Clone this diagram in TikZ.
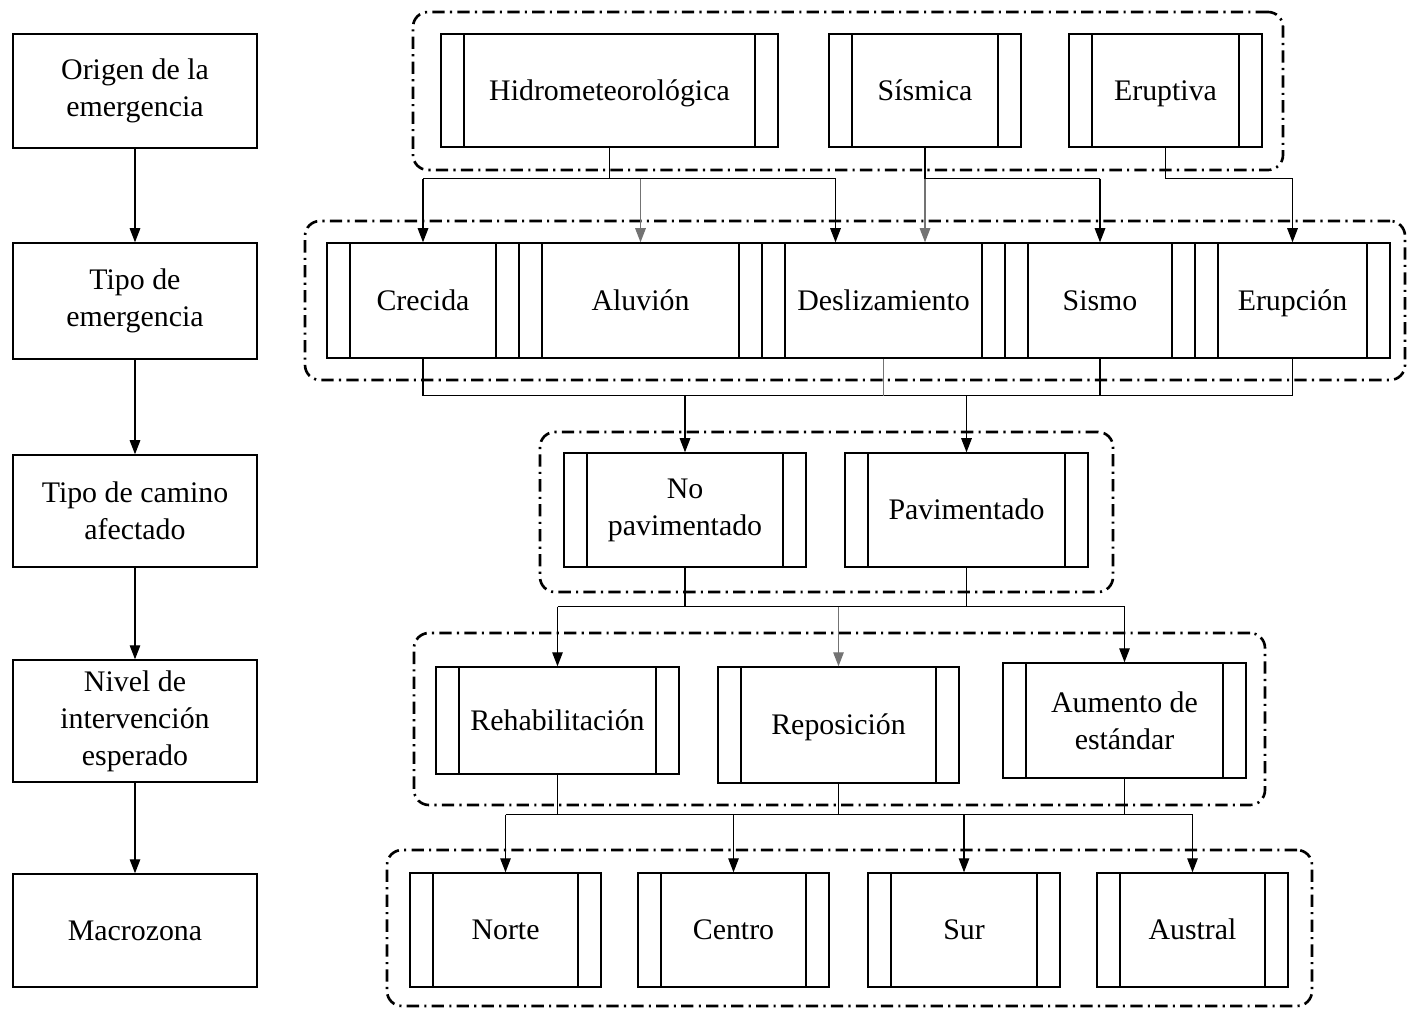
\documentclass[tikz,border=0pt]{standalone}
\usepackage{fontspec}
\setmainfont{Liberation Serif}
\usetikzlibrary{arrows.meta,fit,calc}
\begin{document}
\begin{tikzpicture}[x=0.02cm,y=-0.02cm,
  font=\fontsize{17}{21}\selectfont,
  corners/.style args={#1/#2/#3/#4}{minimum width={(#3-#1)*0.02cm}, minimum height={(#4-#2)*0.02cm},
     at={({(#1+#3)/2},{(#2+#4)/2})}},
  box/.style={draw, line width=0.8pt, inner sep=0pt, align=center, anchor=center},
  one/.style={text height=11pt, text depth=0pt},
  stage/.style={box, corners={#1}},
  proc/.style={box, corners={#1}, path picture={
     \draw[line width=0.8pt] ([xshift=0.46cm]path picture bounding box.north west) -- ([xshift=0.46cm]path picture bounding box.south west);
     \draw[line width=0.8pt] ([xshift=-0.46cm]path picture bounding box.north east) -- ([xshift=-0.46cm]path picture bounding box.south east);}},
  group/.style={draw, line width=1.5pt, rounded corners=0.3cm, inner sep=0pt,
     dash pattern=on 7pt off 3pt on 1.2pt off 3pt, fit={#1}},
  link/.style={line width=0.7pt},
  arr/.style={link, -{Triangle[length=8pt,width=6pt]}},
  faint/.style={draw=black!55},
]
\useasboundingbox (0,0) rectangle (1408,1010);

% dash-dotted groupings of each level
\node[group={(413,12) (1283,170)}] (g1) {};
\node[group={(305,221) (1405,380)}] (g2) {};
\node[group={(540,432) (1113,592)}] (g3) {};
\node[group={(414,633) (1265,805)}] (g4) {};
\node[group={(387,850) (1312,1006)}] (g5) {};

% stages on the left
\node[stage={13/34/257/148}] (s1) {Origen de la\\emergencia};
\node[stage={13/243/257/359}] (s2) {Tipo de\\emergencia};
\node[stage={13/455/257/567}] (s3) {Tipo de camino\\afectado};
\node[stage={13/660/257/782}] (s4) {Nivel de\\intervención\\esperado};
\node[stage={13/874/257/987}, one] (s5) {Macrozona};
\draw[arr] (s1.south) -- (s2.north);
\draw[arr] (s2.south) -- (s3.north);
\draw[arr] (s3.south) -- (s4.north);
\draw[arr] (s4.south) -- (s5.north);

% origin
\node[proc={441/34/778/147}, one] (hidro) {Hidrometeorológica};
\node[proc={829/34/1021/147}, one] (sismica) {Sísmica};
\node[proc={1069/34/1262/147}, one] (eruptiva) {Eruptiva};

% emergency type
\node[proc={327/243/519/358}, one] (crecida) {Crecida};
\node[proc={519/243/762/358}, one] (aluvion) {Aluvión};
\node[proc={762/243/1005/358}, one] (desliz) {Deslizamiento};
\node[proc={1005/243/1195/358}, one] (sismo) {Sismo};
\node[proc={1195/243/1390/358}, one] (erupcion) {Erupción};

% road type
\node[proc={564/453/806/567}] (nopav) {No\\pavimentado};
\node[proc={845/453/1088/567}, one] (pav) {Pavimentado};

% intervention level
\node[proc={436/667/679/774}, one] (rehab) {Rehabilitación};
\node[proc={718/667/959/783}, one] (repos) {Reposición};
\node[proc={1003/663/1246/778}] (aumento) {Aumento de\\estándar};

% macrozone
\node[proc={410/873/601/987}, one] (norte) {Norte};
\node[proc={638/873/829/987}, one] (centro) {Centro};
\node[proc={868/873/1060/987}, one] (sur) {Sur};
\node[proc={1097/873/1288/987}, one] (austral) {Austral};

% origin -> emergency type
\draw[link] (hidro.south) -- ++(0,31) coordinate (t1);
\coordinate (dl) at ($(desliz.north)+(-48,0)$);
\draw[link] (t1 -| crecida.north) -- (t1 -| dl);
\draw[arr] (t1 -| crecida.north) -- (crecida.north);
\draw[arr,faint] (t1 -| aluvion.north) -- (aluvion.north);
\draw[arr] (t1 -| dl) -- (dl);
\draw[link] (sismica.south) -- ++(0,31) coordinate (t2);
\draw[link] (t2) -- (t2 -| sismo.north);
\draw[arr,faint] (t2) -- (t2 |- desliz.north);
\draw[arr] (t2 -| sismo.north) -- (sismo.north);
\draw[link] (eruptiva.south) -- ++(0,31) coordinate (t3);
\draw[arr] (t3) -| (erupcion.north);

% emergency type -> road type
\draw[link] (crecida.south) -- ++(0,37) coordinate (t4) -- (t4 -| erupcion.south) -- (erupcion.south);
\draw[link,faint] (desliz.south) -- (desliz.south |- t4);
\draw[link] (sismo.south) -- (sismo.south |- t4);
\draw[arr] (t4 -| nopav.north) -- (nopav.north);
\draw[arr] (t4 -| pav.north) -- (pav.north);

% road type -> intervention level
\draw[link] (nopav.south) -- ++(0,39) coordinate (t5);
\draw[link] (pav.south) -- (pav.south |- t5);
\draw[link] (t5 -| rehab.north) -- (t5 -| aumento.north);
\draw[arr] (t5 -| rehab.north) -- (rehab.north);
\draw[arr,faint] (t5 -| repos.north) -- (repos.north);
\draw[arr] (t5 -| aumento.north) -- (aumento.north);

% intervention level -> macrozone
\draw[link] (rehab.south) -- ++(0,40) coordinate (t6);
\draw[link] (repos.south) -- (repos.south |- t6);
\draw[link] (aumento.south) -- (aumento.south |- t6);
\draw[link] (t6 -| norte.north) -- (t6 -| austral.north);
\draw[arr] (t6 -| norte.north) -- (norte.north);
\draw[arr] (t6 -| centro.north) -- (centro.north);
\draw[arr] (t6 -| sur.north) -- (sur.north);
\draw[arr] (t6 -| austral.north) -- (austral.north);
\end{tikzpicture}
\end{document}
